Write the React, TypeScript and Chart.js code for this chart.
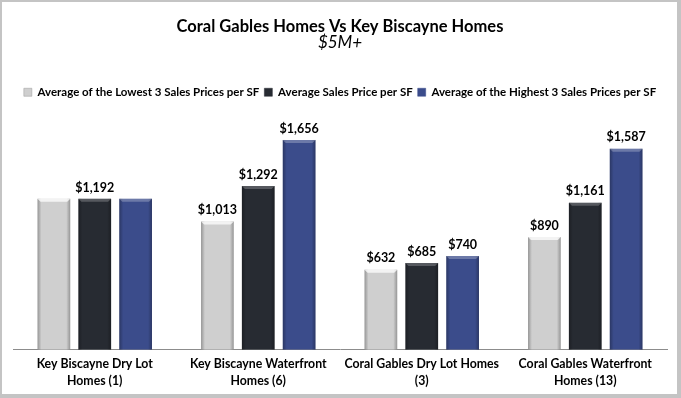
import React, { useEffect, useRef } from "react";
import { Chart, registerables } from "chart.js";

Chart.register(...registerables);

const categories: string[][] = [
  ["Key Biscayne Dry Lot", "Homes (1)"],
  ["Key Biscayne Waterfront", "Homes (6)"],
  ["Coral Gables Dry Lot Homes", "(3)"],
  ["Coral Gables Waterfront", "Homes (13)"],
];
const lowestAvg = [1192, 1013, 632, 890];
const averagePrice = [1192, 1292, 685, 1161];
const highestAvg = [1192, 1656, 740, 1587];
const showLowLabel = [false, true, true, true];
const showAvgLabel = [true, true, true, true];
const showHighLabel = [false, true, true, true];
const seriesNames = [
  "Average of the Lowest 3 Sales Prices per SF",
  "Average Sales Price per SF",
  "Average of the Highest 3 Sales Prices per SF",
];
const yMax = 1908;

const FONT = "Lato";
const colors = ["#cfcfcf", "#272b32", "#3b4c8b"];
const bevel = ["rgba(255,255,255,0.75)", "rgba(255,255,255,0.22)", "rgba(255,255,255,0.25)"];

const fmt = (v: number) => "$" + v.toLocaleString("en-US");

const barStylePlugin = {
  id: "barStyle",
  afterDatasetsDraw(chart: any) {
    const ctx = chart.ctx;
    chart.data.datasets.forEach((ds: any, di: number) => {
      const meta = chart.getDatasetMeta(di);
      meta.data.forEach((el: any) => {
        const { x, y, base, width } = el.getProps(["x", "y", "base", "width"], true);
        const l = x - width / 2;
        const r = x + width / 2;
        ctx.save();
        const g = ctx.createLinearGradient(l, 0, r, 0);
        g.addColorStop(0, "rgba(0,0,0,0.28)");
        g.addColorStop(0.12, "rgba(0,0,0,0.0)");
        g.addColorStop(0.88, "rgba(0,0,0,0.0)");
        g.addColorStop(1, "rgba(0,0,0,0.28)");
        ctx.fillStyle = g;
        ctx.fillRect(l, y, width, base - y);
        ctx.fillStyle = bevel[di];
        ctx.beginPath();
        ctx.moveTo(l, y);
        ctx.lineTo(r, y);
        ctx.lineTo(r - 3, y + 3);
        ctx.lineTo(l + 3, y + 3);
        ctx.closePath();
        ctx.fill();
        ctx.restore();
      });
    });
  },
};

const valueLabelPlugin = {
  id: "valueLabels",
  afterDatasetsDraw(chart: any) {
    const ctx = chart.ctx;
    const flags = [showLowLabel, showAvgLabel, showHighLabel];
    ctx.save();
    ctx.font = `bold 12.5px ${FONT}`;
    ctx.fillStyle = "#000";
    ctx.textAlign = "center";
    ctx.textBaseline = "bottom";
    chart.data.datasets.forEach((ds: any, di: number) => {
      const meta = chart.getDatasetMeta(di);
      meta.data.forEach((el: any, i: number) => {
        if (!flags[di][i]) return;
        ctx.fillText(fmt(ds.data[i]), el.x, el.y - 5);
      });
    });
    ctx.restore();
  },
};

export default function App() {
  const ref = useRef<HTMLCanvasElement>(null);
  useEffect(() => {
    if (!ref.current) return;
    const chart = new Chart(ref.current, {
      type: "bar",
      data: {
        labels: categories,
        datasets: [
          { label: seriesNames[0], data: lowestAvg, backgroundColor: colors[0] },
          { label: seriesNames[1], data: averagePrice, backgroundColor: colors[1] },
          { label: seriesNames[2], data: highestAvg, backgroundColor: colors[2] },
        ],
      },
      options: {
        responsive: false,
        animation: false,
        events: [],
        datasets: { bar: { categoryPercentage: 0.75, barPercentage: 0.8 } },
        layout: { padding: { left: 11, right: 10, top: 0, bottom: -1 } },
        scales: {
          x: {
            grid: { display: false, drawTicks: false },
            border: { display: true, color: "#8c8c8c", width: 1 },
            ticks: {
              color: "#000",
              font: { family: FONT, size: 12.3, weight: "bold", lineHeight: 1.35 },
              padding: 6,
              maxRotation: 0,
              autoSkip: false,
            },
          },
          y: { display: false, min: 0, max: yMax },
        },
        plugins: {
          tooltip: { enabled: false },
          title: {
            display: true,
            text: "Coral Gables Homes Vs Key Biscayne Homes",
            color: "#000",
            font: { family: FONT, size: 16.5, weight: "bold", lineHeight: 1.0 },
            padding: { top: 16, bottom: 0 },
          },
          subtitle: {
            display: true,
            text: "$5M+",
            color: "#000",
            font: { family: FONT, size: 17, style: "italic", lineHeight: 1.0 },
            padding: { top: 0, bottom: 30 },
          },
          legend: {
            display: true,
            position: "top",
            labels: {
              color: "#000",
              font: { family: FONT, size: 11.5, weight: "bold" },
              boxWidth: 8,
              boxHeight: 8,
              padding: 5,
              generateLabels: () =>
                seriesNames.map((n, i) => ({
                  text: n,
                  fillStyle: colors[i],
                  strokeStyle: i === 0 ? "#999" : colors[i],
                  lineWidth: 0.5,
                  hidden: false,
                  datasetIndex: i,
                  fontColor: "#000",
                })),
            },
          },
        },
      },
      plugins: [barStylePlugin, valueLabelPlugin],
    });
    return () => chart.destroy();
  }, []);
  return (
    <div
      style={{
        position: "absolute",
        left: 0,
        top: 0,
        width: 681,
        height: 398,
        boxSizing: "border-box",
        borderTop: "2px solid #c4c4c4",
        borderLeft: "2px solid #c4c4c4",
        borderRight: "4px solid #c4c4c4",
        borderBottom: "4px solid #c4c4c4",
        background: "#fff",
      }}
    >
      <canvas ref={ref} width={675} height={392} style={{ display: "block" }} />
    </div>
  );
}
